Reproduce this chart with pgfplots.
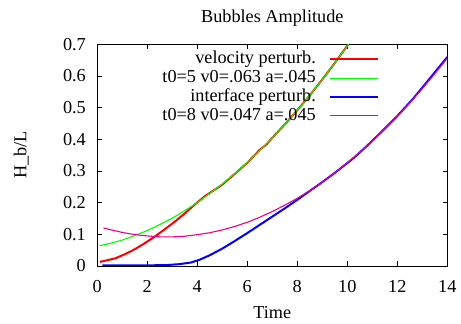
\documentclass[border=0pt]{standalone}
\usepackage{pgfplots}
\pgfplotsset{compat=1.18}
\usepackage{fontspec}
\setmainfont{Liberation Serif}
\newcommand{\gfont}{\rmfamily\fontsize{18.3}{22}\selectfont}
\pgfplotstableread{
t h
0.10 0.013
0.44 0.019
0.71 0.024
1.10 0.037
1.50 0.053
1.90 0.072
2.30 0.093
2.70 0.116
3.10 0.140
3.50 0.166
3.90 0.194
4.30 0.220
5.00 0.257
5.50 0.291
6.00 0.326
6.50 0.367
6.77 0.384
7.00 0.405
7.50 0.447
8.00 0.492
8.50 0.539
9.00 0.589
9.50 0.641
10.04 0.700
}\velocity
\pgfplotstableread{
t h
0.10 0.064
0.50 0.071
1.00 0.082
1.50 0.096
2.00 0.112
2.50 0.131
3.00 0.151
3.50 0.175
4.00 0.200
4.50 0.229
5.00 0.259
5.50 0.292
6.00 0.327
6.50 0.365
7.00 0.405
7.50 0.447
8.00 0.492
8.50 0.539
9.00 0.589
9.50 0.641
10.00 0.695
10.05 0.700
}\fitA
\pgfplotstableread{
t h
0.20 0.002
1.00 0.002
2.00 0.002
2.80 0.003
3.30 0.006
3.75 0.011
4.10 0.020
4.50 0.034
5.00 0.055
5.50 0.079
6.00 0.104
6.50 0.130
7.00 0.156
7.50 0.182
8.00 0.209
8.50 0.237
9.00 0.265
9.50 0.294
10.24 0.340
10.77 0.378
11.31 0.419
11.97 0.471
12.64 0.529
13.31 0.593
14.00 0.660
}\interface
\pgfplotstableread{
t h
0.25 0.120
0.50 0.115
1.00 0.106
1.50 0.099
2.00 0.095
2.50 0.092
3.00 0.092
3.50 0.094
4.00 0.099
4.50 0.105
5.00 0.114
5.50 0.125
6.00 0.138
6.50 0.154
7.00 0.172
7.50 0.192
8.00 0.214
8.50 0.238
9.00 0.265
9.50 0.294
10.00 0.326
10.50 0.359
11.00 0.395
11.50 0.433
12.00 0.473
12.50 0.515
13.00 0.560
13.50 0.607
14.00 0.656
}\fitB
\begin{document}
\begin{tikzpicture}[font=\gfont]
\begin{axis}[
  scale only axis, width=350bp, height=221.7bp,
  xmin=0, xmax=14, ymin=0, ymax=0.7,
  xtick={0,2,4,6,8,10,12,14},
  ytick={0,0.1,0.2,0.3,0.4,0.5,0.6,0.7},
  /pgf/number format/assume math mode=true,
  yticklabel style={/pgf/number format/fixed, /pgf/number format/precision=1,
    anchor=east, inner sep=0pt, xshift=-11.3bp, font=\gfont},
  xticklabel style={anchor=base, inner sep=0pt, yshift=-26.3bp, font=\gfont},
  tick align=inside, major tick length=4.5bp,
  xtick pos=both, ytick pos=both,
  tick style={black, line width=0.8bp},
  axis line style={black, line width=1bp},
  every axis title shift=0pt,
  title={Bubbles Amplitude},
  title style={at={(axis description cs:0.5,1.0974)}, anchor=base, inner sep=0pt, font=\gfont},
  xlabel={Time},
  xlabel style={at={(axis description cs:0.5,-0.2368)}, anchor=base, inner sep=0pt, font=\gfont},
  ylabel={H\_b/L},
  ylabel style={at={(axis description cs:-0.2029,0.5)}, anchor=base, rotate=0, inner sep=0pt, font=\gfont},
  legend plot pos=right,
  legend cell align=right,
  legend image code/.code={\draw[#1] (0bp,0bp) -- (48bp,0bp);},
  legend style={at={(axis description cs:0.805,0.9665)}, anchor=north east,
    draw=none, fill=none, inner sep=0pt, row sep=3.7bp, column sep=13bp,
    nodes={inner sep=0pt, text height=12bp, text depth=3bp},
    font=\gfont},
]
\addplot[red, line width=2bp] table[x=t, y=h] {\velocity};
\addlegendentry{velocity perturb.}
\addplot[green, line width=1.1bp] table[x=t, y=h] {\fitA};
\addlegendentry{t0=5 v0=.063 a=.045}
\addplot[blue, line width=2bp] table[x=t, y=h] {\interface};
\addlegendentry{interface perturb.}
\addplot[magenta, line width=1.1bp] table[x=t, y=h] {\fitB};
\addlegendentry{t0=8 v0=.047 a=.045}
\end{axis}
\pgfresetboundingbox
\path[use as bounding box] (-97.3bp,-58bp) rectangle (363.7bp,266bp);
\end{tikzpicture}
\end{document}
